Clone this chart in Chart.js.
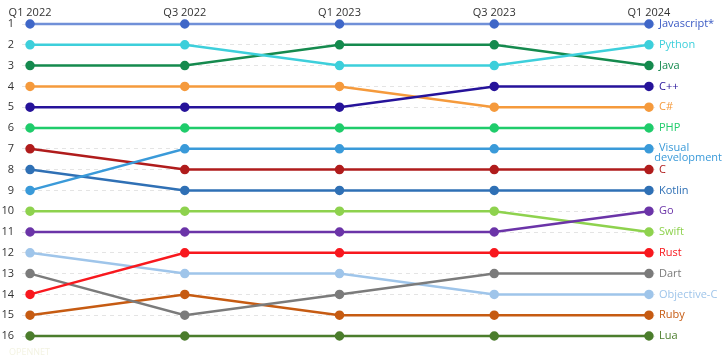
<!DOCTYPE html>
<html>
<head>
<meta charset="utf-8">
<script src="https://cdn.jsdelivr.net/npm/chart.js@4"></script>
<style>
  html, body { margin: 0; padding: 0; background: #fff; }
  #wrap { width: 726px; height: 359px; position: relative; }
</style>
</head>
<body>
<div id="wrap"><canvas id="chart"></canvas></div>
<script>
/* ========= DATA ========= */
const quarters = ['Q1 2022', 'Q3 2022', 'Q1 2023', 'Q3 2023', 'Q1 2024'];
const rankTicks = [1, 2, 3, 4, 5, 6, 7, 8, 9, 10, 11, 12, 13, 14, 15, 16];

const langNames = ['Javascript*', 'Python', 'Java', 'C++', 'C#', 'PHP', 'Visual development',
  'C', 'Kotlin', 'Go', 'Swift', 'Rust', 'Dart', 'Objective-C', 'Ruby', 'Lua'];

const javascriptRanks = [1, 1, 1, 1, 1];
const pythonRanks     = [2, 2, 3, 3, 2];
const javaRanks       = [3, 3, 2, 2, 3];
const cppRanks        = [5, 5, 5, 4, 4];
const csharpRanks     = [4, 4, 4, 5, 5];
const phpRanks        = [6, 6, 6, 6, 6];
const visualDevRanks  = [9, 7, 7, 7, 7];
const cRanks          = [7, 8, 8, 8, 8];
const kotlinRanks     = [8, 9, 9, 9, 9];
const goRanks         = [11, 11, 11, 11, 10];
const swiftRanks      = [10, 10, 10, 10, 11];
const rustRanks       = [14, 12, 12, 12, 12];
const dartRanks       = [13, 15, 14, 13, 13];
const objcRanks       = [12, 13, 13, 14, 14];
const rubyRanks       = [15, 14, 15, 15, 15];
const luaRanks        = [16, 16, 16, 16, 16];

const allRanks = [javascriptRanks, pythonRanks, javaRanks, cppRanks, csharpRanks, phpRanks,
  visualDevRanks, cRanks, kotlinRanks, goRanks, swiftRanks, rustRanks, dartRanks, objcRanks,
  rubyRanks, luaRanks];

/* ========= STYLE ========= */
const lineColors = ['#7090d8', '#3dcfdb', '#158a4e', '#26139a', '#f59a3c', '#1fcc6b', '#3a9ad9',
  '#b01c1c', '#2f70b5', '#6b34a8', '#8ed24e', '#f8181e', '#7b7b7b', '#9fc5ea', '#c65b12', '#4b7d2c'];
const pointColors = ['#3f67c8', '#3dcfdb', '#158a4e', '#26139a', '#f59a3c', '#1fcc6b', '#3a9ad9',
  '#b01c1c', '#2f70b5', '#6b34a8', '#8ed24e', '#f8181e', '#7b7b7b', '#9fc5ea', '#c65b12', '#4b7d2c'];
const labelColors = ['#3a5ac4', '#3dcfdb', '#158a4e', '#26139a', '#f59a3c', '#1fcc6b', '#3a9ad9',
  '#b01c1c', '#2f70b5', '#6b34a8', '#8ed24e', '#f8181e', '#7b7b7b', '#9fc5ea', '#c65b12', '#4b7d2c'];

const FONT = '"Open Sans", "DejaVu Sans", sans-serif';
const TEXT = '#333333';

// End-of-line labels
const endLabels = {
  id: 'endLabels',
  afterDatasetsDraw(chart) {
    const ctx = chart.ctx;
    const W = chart.width;
    ctx.save();
    ctx.font = '11px ' + FONT;
    ctx.textBaseline = 'middle';
    ctx.textAlign = 'left';
    chart.data.datasets.forEach((ds, i) => {
      const meta = chart.getDatasetMeta(i);
      const p = meta.data[meta.data.length - 1];
      const x = p.x + 10;
      ctx.fillStyle = labelColors[i];
      const words = ds.label.split(' ');
      if (words.length > 1 && ctx.measureText(ds.label).width > W - x) {
        words.forEach((w, k) => {
          const tw = ctx.measureText(w).width;
          const lx = Math.min(x, W - 4 - tw);
          ctx.fillText(w, lx, p.y - 1 + k * 10);
        });
      } else {
        ctx.fillText(ds.label, x, p.y);
      }
    });
    // faint watermark
    ctx.font = '9px ' + FONT;
    ctx.fillStyle = '#f3f3e2';
    ctx.fillText('OPENNET', 9, 352);
    ctx.restore();
  }
};

const datasets = langNames.map((name, i) => ({
  label: name,
  data: allRanks[i].map((r, k) => ({ x: k, y: r })),
  borderColor: lineColors[i],
  backgroundColor: pointColors[i],
  pointBackgroundColor: pointColors[i],
  pointBorderColor: pointColors[i],
  borderWidth: 2.5,
  pointRadius: 3.5,
  pointHoverRadius: 3.5,
  tension: 0,
  clip: false
}));

new Chart(document.getElementById('chart'), {
  type: 'line',
  data: { datasets },
  options: {
    responsive: true,
    maintainAspectRatio: false,
    animation: false,
    layout: { padding: { left: 0, right: 71, top: 0, bottom: 23 } },
    plugins: { legend: { display: false }, tooltip: { enabled: false } },
    scales: {
      x: {
        type: 'linear',
        position: 'top',
        min: -0.052,
        max: 4.039,
        afterBuildTicks: s => { s.ticks = quarters.map((q, k) => ({ value: k })); },
        afterFit: s => { s.height = 24; },
        ticks: {
          callback: v => quarters[v],
          color: TEXT,
          font: { family: FONT, size: 11 },
          padding: 5,
          maxRotation: 0,
          autoSkip: false
        },
        grid: { display: false, drawTicks: false },
        border: { display: false }
      },
      y: {
        type: 'linear',
        reverse: true,
        min: 1,
        max: 16,
        afterBuildTicks: s => { s.ticks = rankTicks.map(v => ({ value: v })); },
        afterFit: s => { s.width = 22; },
        ticks: {
          color: TEXT,
          font: { family: FONT, size: 11 },
          padding: 8
        },
        grid: { color: '#e4e4e4', lineWidth: 1, drawTicks: false },
        border: { display: false, dash: [4, 4] }
      }
    }
  },
  plugins: [endLabels]
});
</script>
</body>
</html>
